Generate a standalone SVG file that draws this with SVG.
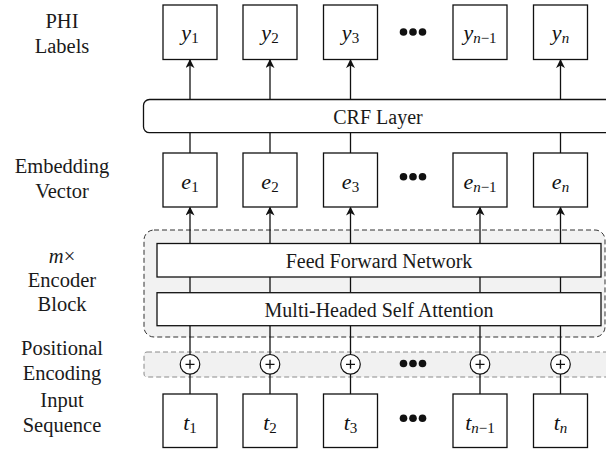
<svg xmlns="http://www.w3.org/2000/svg" width="606" height="452" viewBox="0 0 606 452">
<style>
text{font-family:'Liberation Serif','DejaVu Serif',serif}
.lbl{font-size:20.5px;fill:#1a1a1a;text-anchor:middle}
.blk{font-size:20px;fill:#1a1a1a;text-anchor:middle}
.math{font-size:22px;font-style:italic;fill:#111;text-anchor:middle}
.sub{font-size:15px;font-style:normal}
.subi{font-size:15px;font-style:italic}
.box{fill:#fff;stroke:#111;stroke-width:1.3}
.ln{stroke:#111;stroke-width:1.3;fill:none}
.dot{fill:#111}
</style>
<defs>
<marker id="ah" viewBox="0 0 10 10" refX="9" refY="5" markerWidth="9" markerHeight="9" markerUnits="userSpaceOnUse" orient="auto">
<path d="M0,0 L10,5 L0,10 L3,5 Z" fill="#111"/>
</marker>
</defs>

<g id="side-labels" font-family="Liberation Serif, serif">
<text class="lbl" x="62" y="28">PHI</text>
<text class="lbl" x="62" y="53">Labels</text>
<text class="lbl" x="62" y="173">Embedding</text>
<text class="lbl" x="62" y="198">Vector</text>
<text class="lbl" x="62" y="263"><tspan font-style="italic">m</tspan>×</text>
<text class="lbl" x="62" y="287">Encoder</text>
<text class="lbl" x="62" y="311">Block</text>
<text class="lbl" x="62" y="355">Positional</text>
<text class="lbl" x="62" y="380">Encoding</text>
<text class="lbl" x="62" y="407">Input</text>
<text class="lbl" x="62" y="432">Sequence</text>
</g>

<g id="encoder-block">
<rect x="144" y="230" width="461" height="107" rx="10" fill="#f2f2f2" stroke="#333" stroke-width="1" stroke-dasharray="5 3"/>
</g>
<g id="positional-band">
<rect x="144" y="352" width="475" height="25" rx="3" fill="#f1f1f1" stroke="#8a8a8a" stroke-width="1" stroke-dasharray="5 3"/>
</g>

<g id="connectors">
<line class="ln" x1="190" y1="99.5" x2="190" y2="60" marker-end="url(#ah)"/>
<line class="ln" x1="270" y1="99.5" x2="270" y2="60" marker-end="url(#ah)"/>
<line class="ln" x1="350.5" y1="99.5" x2="350.5" y2="60" marker-end="url(#ah)"/>
<line class="ln" x1="560.5" y1="99.5" x2="560.5" y2="60" marker-end="url(#ah)"/>

<line class="ln" x1="190" y1="132.7" x2="190" y2="153"/>
<line class="ln" x1="270" y1="132.7" x2="270" y2="153"/>
<line class="ln" x1="350.5" y1="132.7" x2="350.5" y2="153"/>
<line class="ln" x1="560.5" y1="132.7" x2="560.5" y2="153"/>

<line class="ln" x1="190" y1="243.5" x2="190" y2="207.5" marker-end="url(#ah)"/>
<line class="ln" x1="270" y1="243.5" x2="270" y2="207.5" marker-end="url(#ah)"/>
<line class="ln" x1="350.5" y1="243.5" x2="350.5" y2="207.5" marker-end="url(#ah)"/>
<line class="ln" x1="480" y1="243.5" x2="480" y2="207.5" marker-end="url(#ah)"/>
<line class="ln" x1="560.5" y1="243.5" x2="560.5" y2="207.5" marker-end="url(#ah)"/>

<line class="ln" x1="190" y1="277" x2="190" y2="292.7"/>
<line class="ln" x1="270" y1="277" x2="270" y2="292.7"/>
<line class="ln" x1="350.5" y1="277" x2="350.5" y2="292.7"/>
<line class="ln" x1="480" y1="277" x2="480" y2="292.7"/>
<line class="ln" x1="560.5" y1="277" x2="560.5" y2="292.7"/>

<line class="ln" x1="190" y1="325.7" x2="190" y2="354.5"/>
<line class="ln" x1="270" y1="325.7" x2="270" y2="354.5"/>
<line class="ln" x1="350.5" y1="325.7" x2="350.5" y2="354.5"/>
<line class="ln" x1="480" y1="325.7" x2="480" y2="354.5"/>
<line class="ln" x1="560.5" y1="325.7" x2="560.5" y2="354.5"/>

<line class="ln" x1="190" y1="374" x2="190" y2="394"/>
<line class="ln" x1="270" y1="374" x2="270" y2="394"/>
<line class="ln" x1="350.5" y1="374" x2="350.5" y2="394"/>
<line class="ln" x1="480" y1="374" x2="480" y2="394"/>
<line class="ln" x1="560.5" y1="374" x2="560.5" y2="394"/>
</g>

<g id="crf-layer">
<rect x="143.5" y="99.5" width="475" height="33.2" rx="6" class="box"/>
<text class="blk" x="378" y="123.5">CRF Layer</text>
</g>
<g id="ffn">
<rect x="157" y="243.5" width="444" height="33.5" class="box"/>
<text class="blk" x="379" y="267.5">Feed Forward Network</text>
</g>
<g id="mhsa">
<rect x="157" y="292.7" width="444" height="33" class="box"/>
<text class="blk" x="379" y="316.5">Multi-Headed Self Attention</text>
</g>

<g id="y1"><rect class="box" x="163" y="5" width="54" height="54.5"/><text class="math" x="190" y="40">y<tspan class="sub" dy="3">1</tspan></text></g>
<g id="y2"><rect class="box" x="243" y="5" width="54" height="54.5"/><text class="math" x="270" y="40">y<tspan class="sub" dy="3">2</tspan></text></g>
<g id="y3"><rect class="box" x="323.5" y="5" width="54" height="54.5"/><text class="math" x="350.5" y="40">y<tspan class="sub" dy="3">3</tspan></text></g>
<g id="yn1"><rect class="box" x="453" y="5" width="54" height="54.5"/><text class="math" x="480" y="40">y<tspan class="subi" dy="3">n</tspan><tspan class="sub">−1</tspan></text></g>
<g id="yn"><rect class="box" x="533.5" y="5" width="54" height="54.5"/><text class="math" x="560.5" y="40">y<tspan class="subi" dy="3">n</tspan></text></g>
<g id="dots-y"><circle class="dot" cx="403.5" cy="32" r="3.8"/><circle class="dot" cx="413" cy="32" r="3.8"/><circle class="dot" cx="422.5" cy="32" r="3.8"/></g>

<g id="e1"><rect class="box" x="163" y="153" width="54" height="54"/><text class="math" x="190" y="189">e<tspan class="sub" dy="3">1</tspan></text></g>
<g id="e2"><rect class="box" x="243" y="153" width="54" height="54"/><text class="math" x="270" y="189">e<tspan class="sub" dy="3">2</tspan></text></g>
<g id="e3"><rect class="box" x="323.5" y="153" width="54" height="54"/><text class="math" x="350.5" y="189">e<tspan class="sub" dy="3">3</tspan></text></g>
<g id="en1"><rect class="box" x="453" y="153" width="54" height="54"/><text class="math" x="480" y="189">e<tspan class="subi" dy="3">n</tspan><tspan class="sub">−1</tspan></text></g>
<g id="en"><rect class="box" x="533.5" y="153" width="54" height="54"/><text class="math" x="560.5" y="189">e<tspan class="subi" dy="3">n</tspan></text></g>
<g id="dots-e"><circle class="dot" cx="403.5" cy="176.7" r="3.8"/><circle class="dot" cx="413" cy="176.7" r="3.8"/><circle class="dot" cx="422.5" cy="176.7" r="3.8"/></g>

<g id="pe-adds">
<g id="add1"><circle cx="190" cy="364.3" r="9.8" fill="#fff" stroke="#111" stroke-width="1.2"/><path class="ln" d="M185.5,364.3H194.5M190,359.8V368.8" stroke-width="1"/></g>
<g id="add2"><circle cx="270" cy="364.3" r="9.8" fill="#fff" stroke="#111" stroke-width="1.2"/><path class="ln" d="M265.5,364.3H274.5M270,359.8V368.8" stroke-width="1"/></g>
<g id="add3"><circle cx="350.5" cy="364.3" r="9.8" fill="#fff" stroke="#111" stroke-width="1.2"/><path class="ln" d="M346,364.3H355M350.5,359.8V368.8" stroke-width="1"/></g>
<g id="addn1"><circle cx="480" cy="364.3" r="9.8" fill="#fff" stroke="#111" stroke-width="1.2"/><path class="ln" d="M475.5,364.3H484.5M480,359.8V368.8" stroke-width="1"/></g>
<g id="addn"><circle cx="560.5" cy="364.3" r="9.8" fill="#fff" stroke="#111" stroke-width="1.2"/><path class="ln" d="M556,364.3H565M560.5,359.8V368.8" stroke-width="1"/></g>
</g>
<g id="dots-pe"><circle class="dot" cx="403.5" cy="363.5" r="3.8"/><circle class="dot" cx="413" cy="363.5" r="3.8"/><circle class="dot" cx="422.5" cy="363.5" r="3.8"/></g>

<g id="t1"><rect class="box" x="163" y="394" width="54" height="53.5"/><text class="math" x="190" y="429.5">t<tspan class="sub" dy="3">1</tspan></text></g>
<g id="t2"><rect class="box" x="243" y="394" width="54" height="53.5"/><text class="math" x="270" y="429.5">t<tspan class="sub" dy="3">2</tspan></text></g>
<g id="t3"><rect class="box" x="323.5" y="394" width="54" height="53.5"/><text class="math" x="350.5" y="429.5">t<tspan class="sub" dy="3">3</tspan></text></g>
<g id="tn1"><rect class="box" x="453" y="394" width="54" height="53.5"/><text class="math" x="480" y="429.5">t<tspan class="subi" dy="3">n</tspan><tspan class="sub">−1</tspan></text></g>
<g id="tn"><rect class="box" x="533.5" y="394" width="54" height="53.5"/><text class="math" x="560.5" y="429.5">t<tspan class="subi" dy="3">n</tspan></text></g>
<g id="dots-t"><circle class="dot" cx="403.5" cy="418.3" r="3.8"/><circle class="dot" cx="413" cy="418.3" r="3.8"/><circle class="dot" cx="422.5" cy="418.3" r="3.8"/></g>
</svg>
